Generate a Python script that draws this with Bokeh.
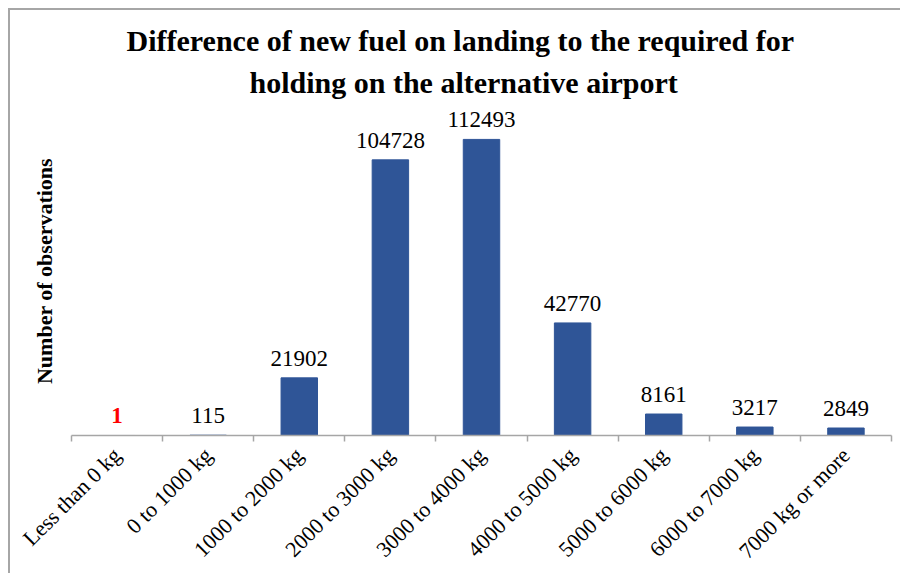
import math
from bokeh.plotting import figure
from bokeh.models import ColumnDataSource, Range1d, FixedTicker, LabelSet, Title
from bokeh.embed import file_html
from bokeh.resources import INLINE

# ---- data ----
categories = ["Less than 0 kg", "0 to 1000 kg", "1000 to 2000 kg", "2000 to 3000 kg",
              "3000 to 4000 kg", "4000 to 5000 kg", "5000 to 6000 kg", "6000 to 7000 kg",
              "7000 kg or more"]
counts = [1, 115, 21902, 104728, 112493, 42770, 8161, 3217, 2849]
label_colors = ["#ff0000"] + ["#000000"] * 8
label_styles = ["bold"] + ["normal"] * 8
y_max = 125000

title_line1 = "Difference of new fuel on landing to the required for"
title_line2 = "holding on the alternative airport"
y_label = "Number of observations"

FONT = "Liberation Serif"
BAR = "#2F5597"
GRAY = "#a6a6a6"

centers = [i + 0.5 for i in range(len(categories))]
src = ColumnDataSource(dict(
    x=centers, top=counts,
    label=[str(c) for c in counts],
    color=label_colors, style=label_styles,
))

p = figure(width=892, height=565, output_backend="svg", toolbar_location=None,
           x_range=Range1d(0, len(categories)), y_range=Range1d(0, y_max),
           min_border_left=61, min_border_right=11, min_border_top=96,
           min_border_bottom=140, title=None)
p.styles = {"margin-left": "8px", "margin-top": "8px",
            "border-left": "2px solid #a6a6a6", "border-top": "2px solid #a6a6a6"}
p.outline_line_color = None
p.grid.visible = False
p.background_fill_color = "white"
p.border_fill_color = "white"

p.vbar(x="x", top="top", width=0.4, bottom=0, source=src,
       fill_color=BAR, line_color=BAR)

labels = LabelSet(x="x", y="top", text="label", source=src, y_offset=12,
                  text_align="center", text_baseline="alphabetic",
                  text_font=FONT, text_font_size="23px",
                  text_color="color", text_font_style="style")
p.add_layout(labels)

# x axis: labels at category centres, ticks at boundaries (minor ticks)
xa = p.xaxis[0]
xa.ticker = FixedTicker(ticks=centers, minor_ticks=list(range(len(categories) + 1)))
xa.major_label_overrides = {c: lab for c, lab in zip(centers, categories)}
xa.major_label_orientation = math.pi / 4
xa.major_label_text_font = FONT
xa.major_label_text_font_size = "22px"
xa.major_label_text_color = "black"
xa.major_label_text_line_height = 0.5
xa.major_label_standoff = 10
xa.major_tick_line_color = None
xa.minor_tick_line_color = GRAY
xa.minor_tick_in = 0
xa.minor_tick_out = 6
xa.axis_line_color = GRAY
xa.axis_line_width = 1.5
xa.minor_tick_line_width = 1.5

ya = p.yaxis[0]
ya.axis_line_color = None
ya.major_tick_line_color = None
ya.minor_tick_line_color = None
ya.major_label_text_font_size = "0px"
ya.axis_label = y_label
ya.axis_label_text_font = FONT
ya.axis_label_text_font_style = "bold"
ya.axis_label_text_font_size = "22px"
ya.axis_label_text_color = "black"
ya.axis_label_standoff = 9

t2 = Title(text=title_line2, align="left", offset=178, standoff=16,
           text_font=FONT, text_font_size="30px", text_font_style="bold",
           text_color="black", text_line_height=1.0)
t1 = Title(text=title_line1, align="left", offset=55, standoff=-3,
           text_font=FONT, text_font_size="30px", text_font_style="bold",
           text_color="black", text_line_height=1.0)
p.add_layout(t2, "above")
p.add_layout(t1, "above")

open("out.html", "w").write(file_html(p, INLINE))
